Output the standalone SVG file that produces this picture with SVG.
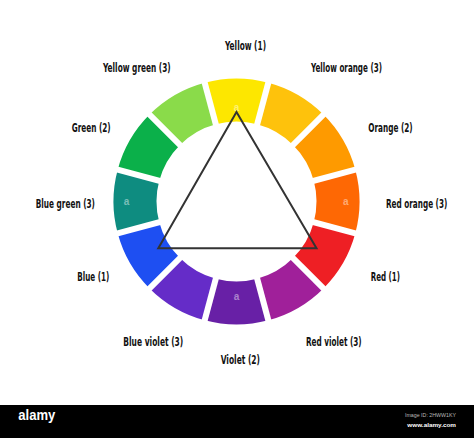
<svg xmlns="http://www.w3.org/2000/svg" width="474" height="438" viewBox="0 0 474 438">
<style>
.lbl{font-family:"DejaVu Sans Condensed","Liberation Sans",Arial,sans-serif;font-stretch:condensed;font-weight:bold;font-size:12.5px;fill:#111;}
.sep{stroke:#fff;stroke-width:6;}
.wm{font-family:"Liberation Sans",Arial,sans-serif;font-weight:bold;font-size:10px;fill:#fff;fill-opacity:0.45;text-anchor:middle;}
</style>
<rect width="474" height="438" fill="#fff"/>
<g id="yellow"><path d="M204.66 82.69 A123 123 0 0 1 268.34 82.69 L257.21 124.23 A80 80 0 0 0 215.79 124.23 Z" fill="#FDE700"/><text class="lbl" transform="translate(225,49.5) scale(0.65,1)" textLength="63.1" lengthAdjust="spacingAndGlyphs">Yellow (1)</text></g>
<g id="yellow-orange"><path d="M268.34 82.69 A123 123 0 0 1 323.47 114.53 L293.07 144.93 A80 80 0 0 0 257.21 124.23 Z" fill="#FEC20C"/><text class="lbl" transform="translate(311,72) scale(0.65,1)" textLength="109.2" lengthAdjust="spacingAndGlyphs">Yellow orange (3)</text></g>
<g id="orange"><path d="M323.47 114.53 A123 123 0 0 1 355.31 169.67 L313.77 180.79 A80 80 0 0 0 293.07 144.93 Z" fill="#FE9A00"/><text class="lbl" transform="translate(368.3,131.7) scale(0.65,1)" textLength="68.3" lengthAdjust="spacingAndGlyphs">Orange (2)</text></g>
<g id="red-orange"><path d="M355.31 169.67 A123 123 0 0 1 355.31 233.33 L313.77 222.21 A80 80 0 0 0 313.77 180.79 Z" fill="#FE6804"/><text class="lbl" transform="translate(386,207.7) scale(0.65,1)" textLength="94.3" lengthAdjust="spacingAndGlyphs">Red orange (3)</text></g>
<g id="red"><path d="M355.31 233.33 A123 123 0 0 1 323.47 288.47 L293.07 258.07 A80 80 0 0 0 313.77 222.21 Z" fill="#EE1F24"/><text class="lbl" transform="translate(370.7,281) scale(0.65,1)" textLength="45.1" lengthAdjust="spacingAndGlyphs">Red (1)</text></g>
<g id="red-violet"><path d="M323.47 288.47 A123 123 0 0 1 268.34 320.31 L257.21 278.77 A80 80 0 0 0 293.07 258.07 Z" fill="#A0209A"/><text class="lbl" transform="translate(306,346) scale(0.65,1)" textLength="85.7" lengthAdjust="spacingAndGlyphs">Red violet (3)</text></g>
<g id="violet"><path d="M268.34 320.31 A123 123 0 0 1 204.66 320.31 L215.79 278.77 A80 80 0 0 0 257.21 278.77 Z" fill="#6820A6"/><text class="lbl" transform="translate(220.7,363.7) scale(0.65,1)" textLength="60.5" lengthAdjust="spacingAndGlyphs">Violet (2)</text></g>
<g id="blue-violet"><path d="M204.66 320.31 A123 123 0 0 1 149.53 288.47 L179.93 258.07 A80 80 0 0 0 215.79 278.77 Z" fill="#652CC8"/><text class="lbl" transform="translate(123.3,346) scale(0.65,1)" textLength="92.3" lengthAdjust="spacingAndGlyphs">Blue violet (3)</text></g>
<g id="blue"><path d="M149.53 288.47 A123 123 0 0 1 117.69 233.33 L159.23 222.21 A80 80 0 0 0 179.93 258.07 Z" fill="#1E4FF2"/><text class="lbl" transform="translate(77.3,281) scale(0.65,1)" textLength="49.2" lengthAdjust="spacingAndGlyphs">Blue (1)</text></g>
<g id="blue-green"><path d="M117.69 233.33 A123 123 0 0 1 117.69 169.67 L159.23 180.79 A80 80 0 0 0 159.23 222.21 Z" fill="#0E8C80"/><text class="lbl" transform="translate(35.7,207.7) scale(0.65,1)" textLength="91.2" lengthAdjust="spacingAndGlyphs">Blue green (3)</text></g>
<g id="green"><path d="M117.69 169.67 A123 123 0 0 1 149.53 114.53 L179.93 144.93 A80 80 0 0 0 159.23 180.79 Z" fill="#0BB04A"/><text class="lbl" transform="translate(71.7,131.7) scale(0.65,1)" textLength="60" lengthAdjust="spacingAndGlyphs">Green (2)</text></g>
<g id="yellow-green"><path d="M149.53 114.53 A123 123 0 0 1 204.66 82.69 L215.79 124.23 A80 80 0 0 0 179.93 144.93 Z" fill="#8ADB4A"/><text class="lbl" transform="translate(103,72) scale(0.65,1)" textLength="104.2" lengthAdjust="spacingAndGlyphs">Yellow green (3)</text></g>
<g id="gaps">
<line class="sep" x1="236.5" y1="201.5" x2="202.9" y2="76.1"/>
<line class="sep" x1="236.5" y1="201.5" x2="270.1" y2="76.1"/>
<line class="sep" x1="236.5" y1="201.5" x2="328.4" y2="109.6"/>
<line class="sep" x1="236.5" y1="201.5" x2="361.9" y2="167.9"/>
<line class="sep" x1="236.5" y1="201.5" x2="361.9" y2="235.1"/>
<line class="sep" x1="236.5" y1="201.5" x2="328.4" y2="293.4"/>
<line class="sep" x1="236.5" y1="201.5" x2="270.1" y2="326.9"/>
<line class="sep" x1="236.5" y1="201.5" x2="202.9" y2="326.9"/>
<line class="sep" x1="236.5" y1="201.5" x2="144.6" y2="293.4"/>
<line class="sep" x1="236.5" y1="201.5" x2="111.1" y2="235.1"/>
<line class="sep" x1="236.5" y1="201.5" x2="111.1" y2="167.9"/>
<line class="sep" x1="236.5" y1="201.5" x2="144.6" y2="109.6"/>
</g>
<g id="watermark-marks">
<text class="wm" x="236.5" y="111">a</text>
<text class="wm" x="126.5" y="205">a</text>
<text class="wm" x="345.7" y="205">a</text>
<text class="wm" x="236.5" y="300">a</text>
</g>
<g id="connectors">
<polygon points="236.5,112 316.5,248.3 158.3,248.3" fill="none" stroke="#333" stroke-width="2" stroke-linejoin="miter"/>
</g>
<g id="footer">
<rect x="0" y="405" width="474" height="33" fill="#000"/>
<text x="18.3" y="420" font-family="Liberation Sans,Arial,sans-serif" font-weight="bold" font-size="15" fill="#fff" textLength="37" lengthAdjust="spacingAndGlyphs">alamy</text>
<text x="405" y="417" font-family="Liberation Sans,Arial,sans-serif" font-size="5.5" fill="#bbb" textLength="51" lengthAdjust="spacingAndGlyphs">Image ID: 2HWW1KY</text>
<text x="407.3" y="427" font-family="Liberation Sans,Arial,sans-serif" font-weight="bold" font-size="6" fill="#fff" textLength="48.7" lengthAdjust="spacingAndGlyphs">www.alamy.com</text>
</g>
</svg>
